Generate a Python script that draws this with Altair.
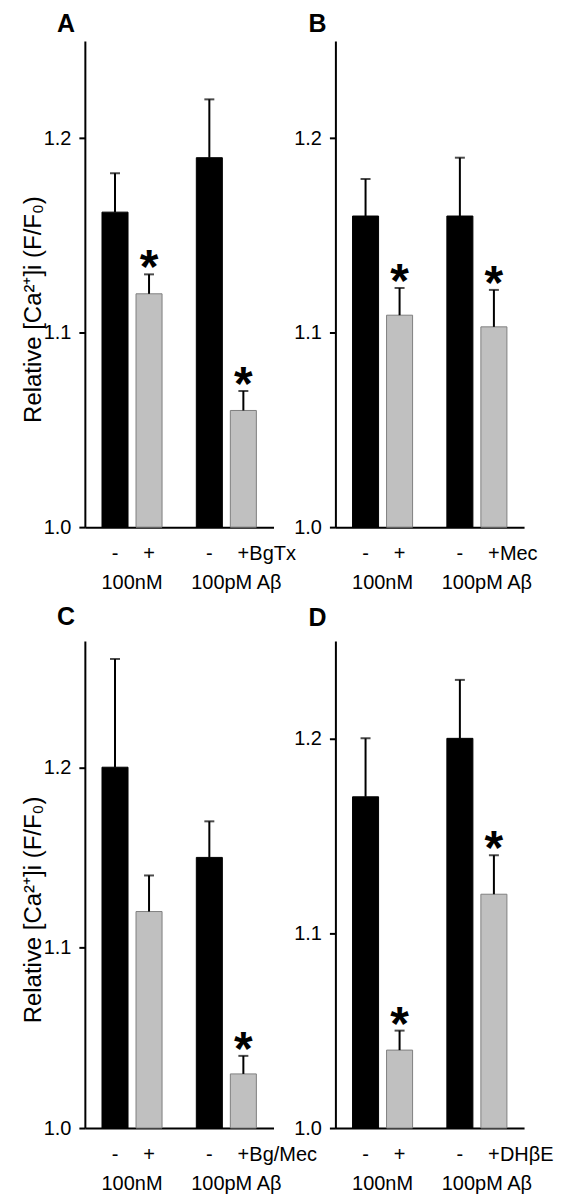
import altair as alt
import pandas as pd

# ---------------- data ----------------
letters = ["A", "B", "C", "D"]
groups = ["100nM", "100pM Aβ"]
treat = ["ctrl", "drug"]
signs = ["-", "+", "-", "+"]
suffixes = ["BgTx", "Mec", "Bg/Mec", "DHβE"]

means_A = [1.162, 1.120, 1.190, 1.060]
means_B = [1.160, 1.109, 1.160, 1.103]
means_C = [1.200, 1.120, 1.150, 1.030]
means_D = [1.170, 1.040, 1.200, 1.120]

sem_A = [0.020, 0.010, 0.030, 0.010]
sem_B = [0.019, 0.014, 0.030, 0.019]
sem_C = [0.060, 0.020, 0.020, 0.010]
sem_D = [0.030, 0.010, 0.030, 0.020]

stars_A = [False, True, False, True]
stars_B = [False, True, False, True]
stars_C = [False, False, False, True]
stars_D = [False, True, False, True]

ymax = [1.25, 1.25, 1.27, 1.25]
yticks = [1.0, 1.1, 1.2]
ytitle = "Relative [Ca²⁺]i (F/F₀)"

FONT = "Liberation Sans"
W = 189
HEIGHTS = [487, 487, 488, 488]
LETTER_DY = [-17, -17, -24, -23]
LETTER_DX = [-19, -18, -19, -18]


def panel(i, means, sems, stars, suffix, show_title):
    h = HEIGHTS[i]
    df = pd.DataFrame({
        "group": [groups[0], groups[0], groups[1], groups[1]],
        "treat": treat * 2,
        "mean": means,
        "top": [m + s for m, s in zip(means, sems)],
        "star": ["*" if s else "" for s in stars],
        "sign": signs,
        "suffix": ["", "", "", suffix],
    })
    x = alt.X("group:N",
              scale=alt.Scale(domain=groups, paddingInner=0.3634, paddingOuter=0.1817),
              axis=alt.Axis(labels=False, ticks=False, title=None, grid=False,
                            domainColor="black", domainWidth=2))
    xo = alt.XOffset("treat:N",
                     scale=alt.Scale(domain=treat, paddingInner=0.235, paddingOuter=0))
    ys = alt.Scale(domain=[1.0, ymax[i]], nice=False, zero=False)
    yaxis = alt.Axis(values=yticks, format=".1f", grid=False,
                     domainColor="black", domainWidth=2,
                     tickColor="black", tickWidth=2, tickSize=6,
                     labelFontSize=20, labelColor="black", labelFont=FONT, labelPadding=8,
                     title=ytitle if show_title else None,
                     titleFontSize=24, titleFontWeight="normal", titleColor="black",
                     titleFont=FONT, titleAngle=270, titleX=-44, titleY=h / 2 + 25,
                     titleAlign="center", titleBaseline="alphabetic")
    t = ytitle if show_title else None
    base = alt.Chart(df)
    bars = base.mark_bar(strokeWidth=1).encode(
        x=x, xOffset=xo,
        y=alt.Y("mean:Q", scale=ys, axis=yaxis),
        y2=alt.datum(1.0),
        color=alt.Color("treat:N", scale=alt.Scale(domain=treat, range=["#000000", "#c0c0c0"]), legend=None),
        stroke=alt.Stroke("treat:N", scale=alt.Scale(domain=treat, range=["#000000", "#808080"]), legend=None),
    )
    err = base.mark_rule(strokeWidth=2, color="black").encode(
        x=x, xOffset=xo, y=alt.Y("mean:Q", title=t), y2="top:Q")
    cap = base.mark_tick(thickness=2, size=10, color="black").encode(
        x=x, xOffset=xo, y=alt.Y("top:Q", title=t))
    star = base.transform_filter(alt.datum.star != "").mark_text(
        font=FONT, fontWeight="bold", fontSize=48, baseline="alphabetic", dy=9, color="black"
    ).encode(x=x, xOffset=xo, y=alt.Y("top:Q", title=t), text="star:N")
    sign = base.mark_text(font=FONT, fontSize=20, baseline="middle", align="center", color="black").encode(
        x=x, xOffset=xo, y=alt.value(h + 27), text="sign:N")
    suf = base.mark_text(font=FONT, fontSize=20, baseline="middle", align="left", dx=6, color="black").encode(
        x=x, xOffset=xo, y=alt.value(h + 27), text="suffix:N")
    gdf = pd.DataFrame({"group": groups})
    g1 = alt.Chart(gdf).transform_filter(alt.datum.group == groups[0]).mark_text(
        font=FONT, fontSize=20, baseline="middle", align="center", color="black").encode(
        x=x, y=alt.value(h + 56), text="group:N")
    g2 = alt.Chart(gdf).transform_filter(alt.datum.group == groups[1]).mark_text(
        font=FONT, fontSize=20, baseline="middle", align="center", dx=10, color="black").encode(
        x=x, y=alt.value(h + 56), text="group:N")
    let = alt.Chart(pd.DataFrame({"l": [letters[i]]})).mark_text(
        font=FONT, fontSize=25, fontWeight="bold", baseline="middle", align="center", color="black").encode(
        x=alt.value(LETTER_DX[i]), y=alt.value(LETTER_DY[i]), text="l:N")
    return alt.layer(bars, err, cap, star, sign, suf, g1, g2, let).properties(width=W, height=h)


pA = panel(0, means_A, sem_A, stars_A, suffixes[0], True)
pB = panel(1, means_B, sem_B, stars_B, suffixes[1], False)
pC = panel(2, means_C, sem_C, stars_C, suffixes[2], True)
pD = panel(3, means_D, sem_D, stars_D, suffixes[3], False)

chart = alt.concat(pA, pB, pC, pD, columns=2,
                   spacing={"row": 114, "column": 62}, bounds="flush").properties(
    padding={"left": 14, "top": 3, "right": 0, "bottom": 0}
).configure(font=FONT).configure_view(stroke="transparent", strokeWidth=0)

chart.save("out.html", embed_options={"renderer": "svg", "actions": False})
